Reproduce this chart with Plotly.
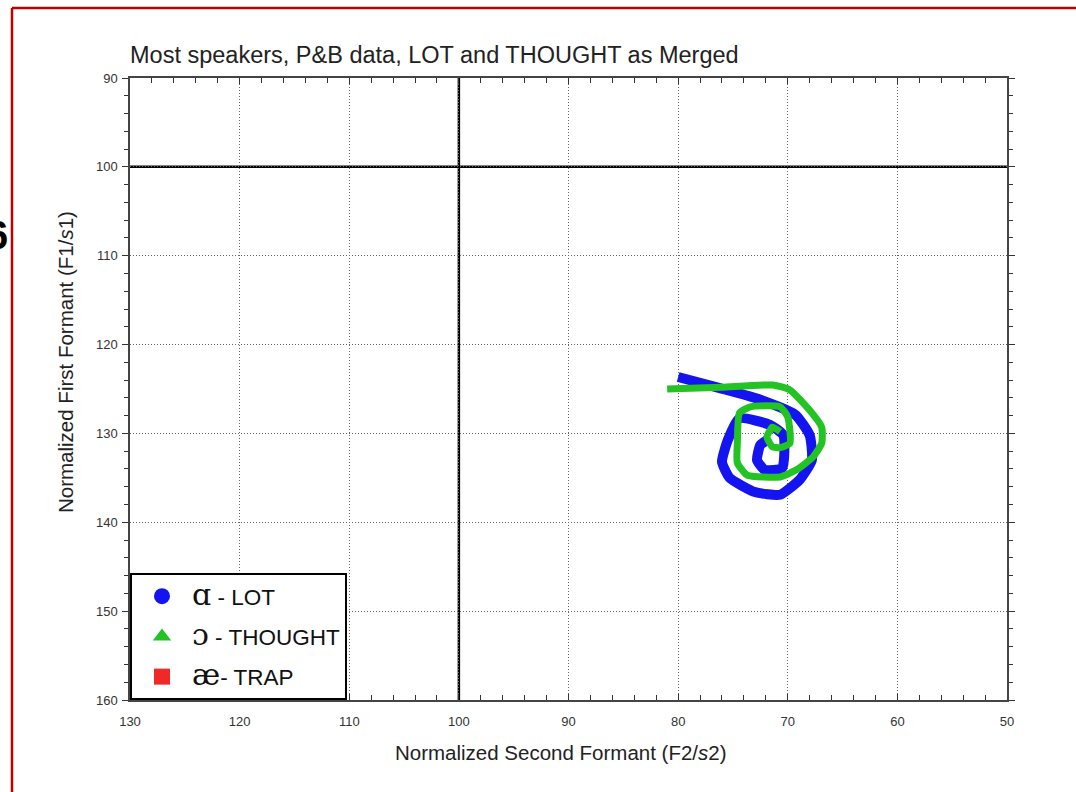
import plotly.graph_objects as go

# ---- data ----
lot_f2 = [80.0, 76.2, 72.5, 69.3, 68.0, 67.8, 68.9, 70.7, 73.0, 75.3, 76.0, 75.45, 74.4, 71.6, 70.4, 70.5, 72.1, 72.8, 72.5, 71.8]
lot_f1 = [123.65, 124.9, 126.2, 127.9, 130.2, 133.0, 135.2, 136.9, 136.6, 135.0, 133.2, 130.7, 128.3, 129.05, 130.2, 133.9, 134.1, 133.0, 131.3, 130.7]

thought_f2 = [81.0, 76.0, 71.35, 69.8, 68.0, 66.9, 66.9, 67.7, 69.2, 70.7, 73.7, 74.6, 74.6, 74.4, 73.4, 70.7, 70.0, 69.8, 70.7, 71.4, 71.9, 71.4, 70.7]
thought_f1 = [125.0, 124.8, 124.55, 125.1, 127.4, 129.3, 131.1, 132.65, 134.1, 134.9, 134.7, 133.3, 131.1, 127.7, 127.0, 127.0, 128.15, 131.1, 131.6, 131.5, 130.4, 129.3, 129.8]

legend_names = ["ɑ", "ɔ", "æ"]
legend_words = ["LOT", "THOUGHT", "TRAP"]
ref_f2 = 100
ref_f1 = 100
x_range = [130, 50]
y_range = [160, 90]

title_text = "Most speakers, P&B data, LOT and THOUGHT as Merged"
x_title = "Normalized Second Formant (F2/<i>s</i>2)"
y_title = "Normalized First Formant (F1/<i>s</i>1)"

BLUE = "#1414f0"
GREEN = "#22c322"
RED = "#f02828"
FONT = "Liberation Sans, Arial, sans-serif"

PW, PH = 877, 622  # plot area size in px (for paper-relative placement)

fig = go.Figure()

fig.add_trace(go.Scatter(x=lot_f2, y=lot_f1, mode="lines",
                         line=dict(color=BLUE, width=10, shape="spline", smoothing=0.5),
                         showlegend=False, hoverinfo="skip"))
fig.add_trace(go.Scatter(x=thought_f2, y=thought_f1, mode="lines",
                         line=dict(color=GREEN, width=7, shape="spline", smoothing=0.5),
                         showlegend=False, hoverinfo="skip"))

symbols = ["circle", "triangle-up", "square"]
colors = [BLUE, GREEN, RED]
sizes = [18, 21, 17]
seps = [" - ", " - ", "- "]
for i, (sym, col, sz, ipa, word, sep) in enumerate(zip(symbols, colors, sizes, legend_names, legend_words, seps)):
    fig.add_trace(go.Scatter(
        x=[None], y=[None], mode="markers", legendgroup=f"g{i}",
        marker=dict(symbol=sym, color=col, size=sz),
        name=f"<span style='font-family:DejaVu Serif;font-size:30px'>{ipa}</span>{sep}{word}",
    ))

fig.add_vline(x=ref_f2, line=dict(color="black", width=2.5), layer="below")
fig.add_hline(y=ref_f1, line=dict(color="black", width=2.5), layer="below")

axis_common = dict(
    showline=True, linecolor="#444", linewidth=1.5, mirror="allticks",
    showgrid=True, gridcolor="#666", griddash="1px,2px", gridwidth=1,
    zeroline=False, dtick=10,
    tickfont=dict(family=FONT, size=13, color="#333"),
    ticklen=6, tickcolor="#333",
)

fig.update_xaxes(range=x_range, ticks="inside", ticklabelstandoff=9,
                 minor=dict(dtick=2, ticks="inside", ticklen=5, tickcolor="#333", showgrid=False),
                 **axis_common)
fig.update_yaxes(range=y_range, ticks="outside", ticklabelstandoff=2,
                 minor=dict(dtick=2, ticks="outside", ticklen=4, tickcolor="#333", showgrid=False),
                 **axis_common)

fig.update_layout(
    width=1076, height=792,
    margin=dict(l=130, r=69, t=78, b=92),
    paper_bgcolor="white", plot_bgcolor="white",
    title=dict(text=title_text, x=0, xref="paper", xanchor="left",
               y=1 - 55 / 792, yref="container", yanchor="middle",
               font=dict(family=FONT, size=23.5, color="#222")),
    legend=dict(x=0, y=0, xanchor="left", yanchor="bottom",
                bgcolor="white", bordercolor="black", borderwidth=2,
                font=dict(family=FONT, size=22.5, color="#111"),
                itemsizing="trace", tracegroupgap=8, itemwidth=50),
    showlegend=True,
)

# axis titles placed as in the reference
fig.add_annotation(text=x_title, xref="paper", yref="paper",
                   x=(561 - 130) / PW, y=-(752 - 700) / PH, xanchor="center", yanchor="middle",
                   showarrow=False, font=dict(family=FONT, size=20.5, color="#222"))
fig.add_annotation(text=y_title, xref="paper", yref="paper", textangle=-90,
                   x=-(130 - 65) / PW, y=(700 - 362) / PH, xanchor="center", yanchor="middle",
                   showarrow=False, font=dict(family=FONT, size=20.5, color="#222"))

# slide frame (red border) from the screenshot
frame = dict(color="#c00000", width=2.5)
fig.add_shape(type="line", xref="paper", yref="paper",
              x0=-118 / PW, x1=-118 / PW, y0=1 + 70 / PH, y1=-92 / PH, line=frame)
fig.add_shape(type="line", xref="paper", yref="paper",
              x0=-118 / PW, x1=1 + 69 / PW, y0=1 + 70 / PH, y1=1 + 70 / PH, line=frame)

fig.add_annotation(text="<b>6</b>", xref="paper", yref="paper",
                   x=-120 / PW, y=1 - (235 - 78) / PH, xanchor="right", yanchor="middle",
                   showarrow=False, font=dict(family=FONT, size=40, color="black"))

fig.write_html("out.html", config={"displayModeBar": False},
               post_script="document.body.style.margin='0';")
